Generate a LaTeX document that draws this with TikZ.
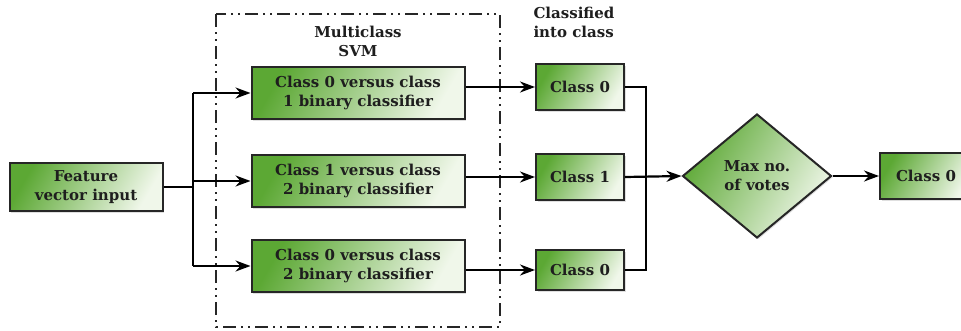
\documentclass[tikz,border=0pt]{standalone}
\usepackage{fontspec}
\setmainfont{DejaVu Serif}
\usetikzlibrary{arrows.meta,shapes.geometric,shadows}
\definecolor{boxgreen}{RGB}{92,168,52}
\definecolor{boxmid}{RGB}{124,190,84}
\definecolor{boxlight}{RGB}{240,247,234}
\definecolor{ink}{RGB}{30,30,30}
\tikzset{box/.style={draw=black!85, line width=2pt, left color=boxgreen, middle color=boxmid, right color=boxlight,
  shading angle=60, drop shadow={opacity=0.25, shadow xshift=1.5pt, shadow yshift=-1.5pt},
  align=center, text=ink, font=\bfseries\fontsize{15}{19}\selectfont, inner sep=0pt},
%arrow with a heavy head
arr/.style={line width=2.2pt, -{Stealth[length=15pt,width=11pt]}},
wire/.style={line width=2.2pt}}

\begin{document}
\begin{tikzpicture}[x=1pt,y=-1pt]
\useasboundingbox (0,0) rectangle (961,330);

% frame round the svm
\draw[line width=2.2pt, black!85, dash pattern=on 13pt off 5pt on 2pt off 5pt on 2pt off 5pt]
  (216,14) rectangle (500,327);
\node[text=ink, font=\bfseries\fontsize{15}{19}\selectfont, align=center] (svm) at (358,41) {Multiclass\\SVM};
\node[text=ink, font=\bfseries\fontsize{15}{19}\selectfont, align=left, anchor=north west] (into) at (530,4) {Classified\\into class};

\node[box, minimum width=153pt, minimum height=48pt] (feat) at (86,187) {Feature\\vector input};

\node[box, minimum width=213pt, minimum height=52pt] (c01) at (358,93) {Class 0 versus class\\1 binary classifier};
\node[box, minimum width=213pt, minimum height=52pt] (c12) at (358,181) {Class 1 versus class\\2 binary classifier};
\node[box, minimum width=213pt, minimum height=52pt] (c02) at (358,266) {Class 0 versus class\\2 binary classifier};

\node[box, minimum width=88pt, minimum height=46pt] (k0) at (580,87) {Class 0};
\node[box, minimum width=88pt, minimum height=46pt] (k1) at (580,177) {Class 1};
\node[box, minimum width=88pt, minimum height=40pt] (k2) at (580,270) {Class 0};

\node[box, diamond, minimum width=149pt, minimum height=124pt] (vote) at (757,176) {Max no.\\of votes};
\node[box, minimum width=92pt, minimum height=46pt, anchor=west] (out) at (879,176) {Class 0};

\coordinate (split) at (193,187);
\coordinate (join) at (646,177);

\draw[wire] (feat.east) -- (split);
\draw[wire] (split |- c01) -- (split |- c02);
\foreach \n in {c01,c12,c02}
    \draw[arr] (split |- \n) -- (\n.west);

\draw[arr] (c01.east |- k0) -- (k0.west);
\draw[arr] (c12.east |- k1) -- (k1.west);
\draw[arr] (c02.east |- k2) -- (k2.west);

\draw[wire] (k0.east) -| (join);
\draw[wire] (k2.east) -| (join);
\draw[arr] (k1.east) -- (vote.west);
\draw[arr] (vote.east) -- (out.west);

\end{tikzpicture}
\end{document}
